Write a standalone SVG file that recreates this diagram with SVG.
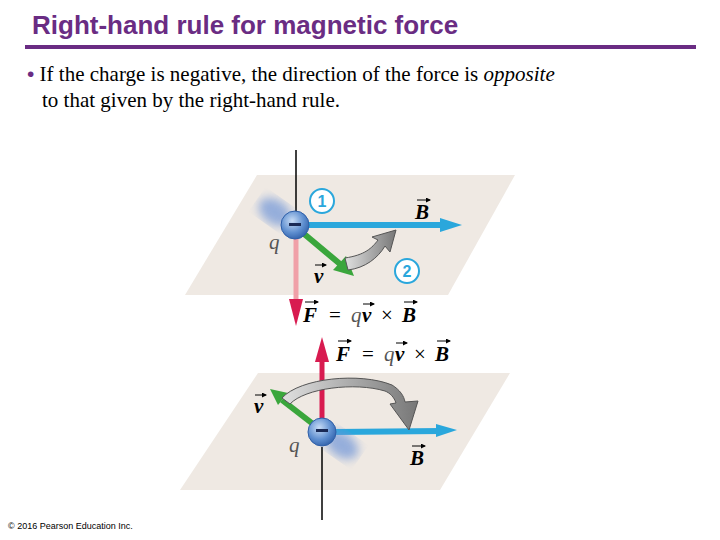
<svg xmlns="http://www.w3.org/2000/svg" width="720" height="540" viewBox="0 0 720 540">
<style>
.t{font-family:"Liberation Serif",serif;font-size:21px;fill:#000}
.m{font-family:"Liberation Serif",serif;font-size:21px;font-weight:bold;font-style:italic;fill:#000}
.n{font-family:"Liberation Serif",serif;font-size:21px;font-style:italic;fill:#555}
.o{font-family:"Liberation Serif",serif;font-size:21px;fill:#000}
.plane{fill:#efe9e3}
.num{fill:#fff;stroke:#2aa7dc;stroke-width:2}
.numt{font-family:"Liberation Sans",sans-serif;font-size:16px;font-weight:bold;fill:#2aa7dc;text-anchor:middle}
.va{fill:none;stroke:#000;stroke-width:1;marker-end:url(#vh)}
</style>
<defs>
<marker id="vh" markerWidth="5" markerHeight="5" refX="4" refY="2.5" orient="auto" markerUnits="userSpaceOnUse"><path d="M0,0 L5,2.5 L0,5 Z" fill="#000"/></marker>
<radialGradient id="ball" cx="0.4" cy="0.35" r="0.7"><stop offset="0" stop-color="#c8dcf5"/><stop offset="0.6" stop-color="#5f8fd0"/><stop offset="1" stop-color="#2f5fa8"/></radialGradient>
<linearGradient id="gray" x1="0" x2="1"><stop offset="0" stop-color="#e0e0e0"/><stop offset="1" stop-color="#777"/></linearGradient>
<filter id="blur"><feGaussianBlur stdDeviation="5"/></filter>
</defs>
<text x="32" y="34" font-family="Liberation Sans,sans-serif" font-size="26" font-weight="bold" fill="#6a2c83">Right-hand rule for magnetic force</text>
<rect x="25" y="45" width="671" height="4" fill="#6a2c83"/>
<text x="27" y="81" class="t"><tspan fill="#6a2c83" font-family="Liberation Sans,sans-serif">•</tspan> If the charge is negative, the direction of the force is <tspan font-style="italic">opposite</tspan></text>
<text x="42" y="107" class="t">to that given by the right-hand rule.</text>
<text x="8" y="529" font-family="Liberation Sans,sans-serif" font-size="9" fill="#000">© 2016 Pearson Education Inc.</text>

<g id="top-plane"><polygon class="plane" points="257,175 515,175 448,295 185,295"/></g>
<g id="bottom-plane"><polygon class="plane" points="258,373 510,373 440,490 180,490"/></g>

<g id="connectors">
<line x1="296" y1="150" x2="296" y2="212" stroke="#000" stroke-width="1.5"/>
<line x1="296" y1="238" x2="296" y2="300" stroke="#f0a0a8" stroke-width="5"/>
<polygon points="289,299 303,299 296,326" fill="#d81b50"/>
<line x1="305" y1="225" x2="448" y2="225" stroke="#2aa7dc" stroke-width="6"/>
<polygon points="440,218 462,225 440,232" fill="#2aa7dc"/>
<line x1="303" y1="233" x2="340" y2="264" stroke="#3aa63c" stroke-width="6"/>
<polygon points="333,270 346,256 354,276" fill="#3aa63c"/>
<path d="M345,258 C365,255 372,248 378,240 L372,237 L396,230 L390,252 L385,246 C378,258 365,268 348,270 Z" fill="url(#gray)" stroke="#555" stroke-width="1"/>

<line x1="322" y1="447" x2="322" y2="520" stroke="#000" stroke-width="1.5"/>
<line x1="322" y1="350" x2="322" y2="420" stroke="#d81b50" stroke-width="5"/>
<polygon points="315,362 329,362 322,337" fill="#d81b50"/>
<line x1="335" y1="432" x2="442" y2="431" stroke="#2aa7dc" stroke-width="6"/>
<polygon points="436,424 457,430 436,437" fill="#2aa7dc"/>
<line x1="313" y1="424" x2="282" y2="400" stroke="#3aa63c" stroke-width="6"/>
<polygon points="288,393 278,405 270,389" fill="#3aa63c"/>
<path d="M282,398 C300,378 360,372 392,385 C400,390 404,396 405,402 L418,401 L409,430 L390,404 L396,403 C394,397 390,393 385,391 C355,382 305,388 290,404 Z" fill="url(#gray)" stroke="#555" stroke-width="1"/>
</g>

<g id="charge-top">
<ellipse cx="275" cy="212" rx="18" ry="12" fill="#6f95d8" opacity="0.7" filter="url(#blur)" transform="rotate(35 275 212)"/>
<circle cx="295" cy="225" r="14" fill="url(#ball)" stroke="#2f5fa8"/>
<rect x="289" y="223" width="12" height="3" fill="#1a2a55"/>
<text x="269" y="249" class="n">q</text>
</g>
<g id="label-1"><circle cx="322" cy="201" r="12" class="num"/><text x="322" y="207" class="numt">1</text></g>
<g id="label-2"><circle cx="407" cy="271" r="12" class="num"/><text x="407" y="277" class="numt">2</text></g>
<g id="labels-top">
<text x="415" y="219" class="m">B</text><path class="va" d="M417,200 H430"/>
<text x="314" y="283" class="m">v</text><path class="va" d="M315,265 H326"/>
<text x="303" y="322" class="m">F</text><path class="va" d="M305,302 H318"/>
<text x="329" y="322" class="o">=</text>
<text x="351" y="322" class="n" fill="#000">q</text>
<text x="362" y="322" class="m">v</text><path class="va" d="M363,304 H374"/>
<text x="381" y="322" class="o">×</text>
<text x="402" y="322" class="m">B</text><path class="va" d="M404,302 H417"/>
</g>

<g id="charge-bottom">
<ellipse cx="342" cy="445" rx="18" ry="12" fill="#6f95d8" opacity="0.7" filter="url(#blur)" transform="rotate(35 342 445)"/>
<circle cx="322" cy="432" r="14" fill="url(#ball)" stroke="#2f5fa8"/>
<rect x="316" y="429" width="12" height="3" fill="#1a2a55"/>
<text x="289" y="452" class="n">q</text>
</g>
<g id="labels-bottom">
<text x="336" y="361" class="m">F</text><path class="va" d="M338,341 H351"/>
<text x="362" y="361" class="o">=</text>
<text x="384" y="361" class="n" fill="#000">q</text>
<text x="395" y="361" class="m">v</text><path class="va" d="M396,343 H407"/>
<text x="414" y="361" class="o">×</text>
<text x="435" y="361" class="m">B</text><path class="va" d="M437,341 H450"/>
<text x="254" y="413" class="m">v</text><path class="va" d="M255,395 H266"/>
<text x="410" y="465" class="m">B</text><path class="va" d="M412,446 H425"/>
</g>
</svg>
